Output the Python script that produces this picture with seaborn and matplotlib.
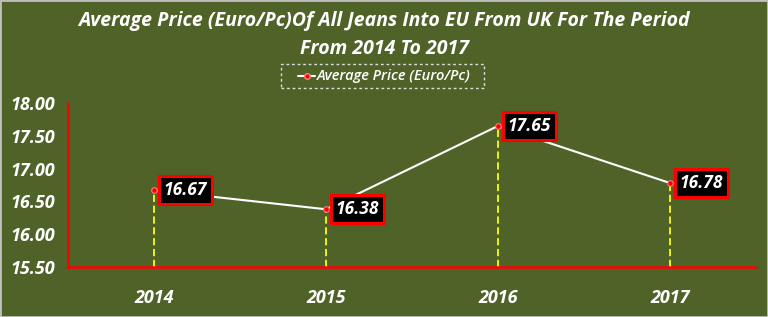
import matplotlib
matplotlib.use("Agg")
import matplotlib.pyplot as plt
import seaborn as sns
import pandas as pd
from matplotlib.patches import Rectangle

years = ["2014", "2015", "2016", "2017"]
prices = [16.67, 16.38, 17.65, 16.78]
yticks = [15.50, 16.00, 16.50, 17.00, 17.50, 18.00]
title = "Average Price (Euro/Pc)Of All Jeans Into EU From UK For The Period\nFrom 2014 To 2017"
series_name = "Average Price (Euro/Pc)"

BG = "#4F6228"
sns.set_theme(style="white")
plt.rcParams['font.family'] = ['Open Sans', 'DejaVu Sans']

df = pd.DataFrame({"Year": years, "Price": prices, "Series": series_name})

fig = plt.figure(figsize=(7.68, 3.17), dpi=100, facecolor=BG)
ax = fig.add_axes([68/768, 1-267/317, (756-68)/768, (267-103)/317])
ax.set_facecolor(BG)

xpos = list(range(len(years)))
ax.vlines(xpos, yticks[0], prices, colors="#FFFF00", linestyles=(0, (4, 2)), linewidth=1.3, zorder=2)

sns.lineplot(data=df, x="Year", y="Price", hue="Series", palette=["white"], ax=ax,
             marker="o", markersize=4, markerfacecolor="red", markeredgecolor="#FF8080",
             linewidth=1.5, sort=False, zorder=3, legend=False)

ax.set_xlim(-0.5, len(years) - 0.5)
ax.set_ylim(yticks[0], yticks[-1])
ax.set_yticks(yticks)
ax.set_yticklabels([f"{v:.2f}" for v in yticks])
ax.set_xlabel("")
ax.set_ylabel("")

for s in ["top", "right"]:
    ax.spines[s].set_visible(False)
for s in ["left", "bottom"]:
    ax.spines[s].set_color("red")
    ax.spines[s].set_linewidth(1.8)

ax.tick_params(axis="y", colors="red", length=5, width=1.5, direction="out", pad=4)
ax.tick_params(axis="x", length=0, pad=16)
for lab in ax.get_yticklabels() + ax.get_xticklabels():
    lab.set_color("white")
    lab.set_fontsize(13)
    lab.set_fontweight("bold")
    lab.set_fontstyle("italic")

for x, v in zip(xpos, prices):
    ax.annotate(f"{v:.2f}", (x, v), xytext=(7, 0), textcoords="offset points",
                ha="left", va="center", color="white", fontsize=12.5,
                fontweight="bold", fontstyle="italic", zorder=5,
                bbox=dict(boxstyle="square,pad=0.3", facecolor="black", edgecolor="red", linewidth=2.2))

fig.text(0.5, 1 - 35/317, title, ha="center", va="center", color="white",
         fontsize=14, fontweight="bold", fontstyle="italic", linespacing=1.5)

# legend box
lx0, lx1, ly0, ly1 = 281/768, 484/768, 1-88/317, 1-64/317
fig.patches.append(Rectangle((lx0, ly0), lx1-lx0, ly1-ly0, transform=fig.transFigure,
                             fill=False, edgecolor="#DDDDDD", linestyle=(0, (2, 2)), linewidth=1))
ly = (ly0 + ly1) / 2
fig.lines.append(plt.Line2D([298/768, 315/768], [ly, ly], transform=fig.transFigure,
                            color="white", linewidth=1.5))
fig.lines.append(plt.Line2D([306.5/768], [ly], transform=fig.transFigure,
                            color="white", marker="o", markersize=4, markerfacecolor="red",
                            markeredgecolor="#FF8080", linestyle="none"))
fig.text(317/768, ly, series_name, ha="left", va="center", color="white",
         fontsize=10.5, fontstyle="italic", fontweight="semibold")

# outer border
fig.patches.append(Rectangle((0, 0), 1, 1, transform=fig.transFigure, fill=False,
                             edgecolor="#BFBFBF", linewidth=2))

fig.savefig("out.png", dpi=100, facecolor=BG)
